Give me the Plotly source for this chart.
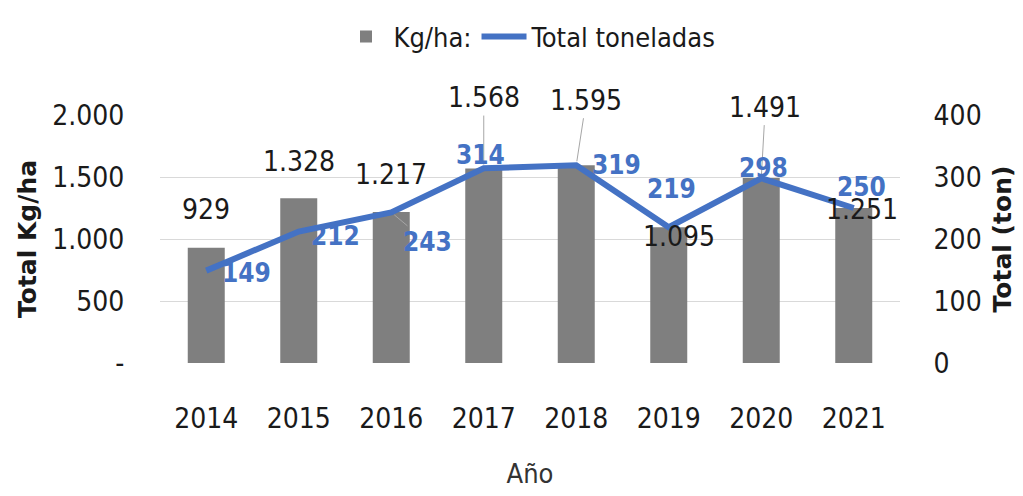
import plotly.graph_objects as go

years = ["2014", "2015", "2016", "2017", "2018", "2019", "2020", "2021"]
kg_ha = [929, 1328, 1217, 1568, 1595, 1095, 1491, 1251]
toneladas = [149, 212, 243, 314, 319, 219, 298, 250]
left_ticks = [0, 500, 1000, 1500, 2000]
left_tick_text = ["-", "500", "1.000", "1.500", "2.000"]
right_ticks = [0, 100, 200, 300, 400]

# label placement (pixel offsets from the data point) -- layout, not data
bar_lbl_dx = [0, 0, 0, 0, 10, 10, 4, 8]
bar_lbl_dy = [38, 37, 38, 71, 65, -9, 71, -2]
bar_lbl_leader = [False, False, False, True, True, False, True, False]
line_lbl_dx = [40, 37, 36, -3, 40, 3, 2, 8]
line_lbl_dy = [-2, -4, -30, 13, 0, 38, 10, 21]
line_lbl_leader = [False, False, True, False, False, False, False, False]

def fmt(v):
    return f"{v:,}".replace(",", ".")

NARROW = "Liberation Sans Narrow, DejaVu Sans Condensed, Arial Narrow, sans-serif"
BLUE = "#4472C4"
GRAY = "#7F7F7F"

fig = go.Figure()
fig.add_trace(go.Bar(x=years, y=kg_ha, name="Kg/ha:", marker=dict(color=GRAY, line=dict(width=0)),
                     yaxis="y"))
fig.add_trace(go.Scatter(x=years, y=toneladas, name="Total toneladas", mode="lines",
                         line=dict(color=BLUE, width=6), yaxis="y2"))

annotations = []
# on a category axis annotations take the category's serial index
for i, v in enumerate(kg_ha):
    a = dict(x=i, y=v, xref="x", yref="y", text=fmt(v),
             font=dict(family=NARROW, size=28, color="#1a1a1a"))
    if bar_lbl_leader[i]:
        a.update(showarrow=True, ax=bar_lbl_dx[i], ay=-bar_lbl_dy[i], arrowhead=0,
                 arrowwidth=1, arrowcolor="#a6a6a6", standoff=4, startstandoff=0)
    else:
        a.update(showarrow=False, xshift=bar_lbl_dx[i], yshift=bar_lbl_dy[i])
    annotations.append(a)
for i, v in enumerate(toneladas):
    a = dict(x=i, y=v, xref="x", yref="y2", text=f"<b>{v}</b>",
             font=dict(family=NARROW, size=26, color=BLUE))
    if line_lbl_leader[i]:
        a.update(showarrow=True, ax=line_lbl_dx[i], ay=-line_lbl_dy[i], arrowhead=0,
                 arrowwidth=1, arrowcolor="#a6a6a6", standoff=4)
    else:
        a.update(showarrow=False, xshift=line_lbl_dx[i], yshift=line_lbl_dy[i])
    annotations.append(a)

fig.update_layout(
    width=1023, height=496,
    margin=dict(l=160, r=118, t=108, b=133),
    paper_bgcolor="white", plot_bgcolor="white",
    bargap=0.6,
    showlegend=True,
    legend=dict(orientation="h", x=0.5, xanchor="center", y=1.315, yanchor="middle",
                font=dict(family=NARROW, size=27, color="#1a1a1a"), itemwidth=45),
    xaxis=dict(type="category", categoryorder="array", categoryarray=years,
               tickfont=dict(family=NARROW, size=28, color="#1a1a1a"),
               title=dict(text="Año", font=dict(family=NARROW, size=27, color="#333333"), standoff=30),
               showgrid=False, showline=False, ticks="outside", ticklen=30, tickcolor="rgba(0,0,0,0)"),
    yaxis=dict(range=[0, 2000], tickvals=left_ticks, ticktext=left_tick_text,
               tickfont=dict(family=NARROW, size=28, color="#1a1a1a"),
               gridcolor="#d9d9d9", gridwidth=1, zeroline=False, showline=False,
               ticks="outside", ticklen=29, tickcolor="rgba(0,0,0,0)",
               title=dict(text="<b>Total Kg/ha</b>", font=dict(family="DejaVu Sans", size=25, color="#1a1a1a"),
                          standoff=8)),
    yaxis2=dict(range=[0, 400], tickvals=right_ticks, overlaying="y", side="right",
                tickfont=dict(family=NARROW, size=28, color="#1a1a1a"),
                showgrid=False, zeroline=False, showline=False,
                ticks="outside", ticklen=27, tickcolor="rgba(0,0,0,0)",
                title=dict(text="<b>Total (ton)</b>", font=dict(family="DejaVu Sans", size=25, color="#1a1a1a"),
                           standoff=12)),
    annotations=annotations,
)

fig.write_html("out.html", config={"displayModeBar": False},
               post_script="document.body.style.margin='0';")
